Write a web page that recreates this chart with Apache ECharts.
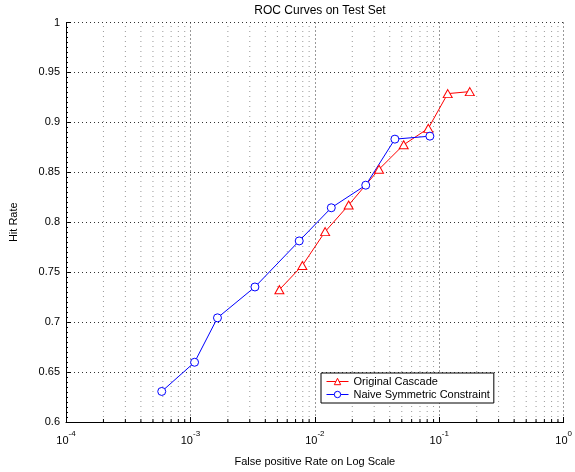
<!DOCTYPE html>
<html>
<head>
<meta charset="utf-8">
<script src="https://cdn.jsdelivr.net/npm/echarts@6/dist/echarts.min.js"></script>
<style>
  html, body { margin: 0; padding: 0; background: #fff; }
  #chart { width: 575px; height: 472px; }
</style>
</head>
<body>
<div id="chart"></div>
<script>
// ROC 曲线数据
const cascadeFpr = [0.00519, 0.00794, 0.0121, 0.0187, 0.0328, 0.0518, 0.0817, 0.117, 0.176];
const cascadeHit = [0.7325, 0.7567, 0.7906, 0.8172, 0.853, 0.8776, 0.894, 0.9288, 0.9308];
const naiveFpr = [0.000588, 0.00108, 0.00165, 0.0033, 0.00749, 0.01356, 0.02566, 0.044, 0.0841];
const naiveHit = [0.6306, 0.6598, 0.7043, 0.7352, 0.7813, 0.8145, 0.8371, 0.8832, 0.8862];
const seriesNames = ['Original Cascade', 'Naive Symmetric Constraint'];

// 对数轴的次刻度位置
const decades = [1e-4, 1e-3, 1e-2, 1e-1];
const mantissas = [2, 3, 4, 5, 6, 7, 8, 9];
const minorX = [];
decades.forEach(d => mantissas.forEach(m => minorX.push([+(m * d).toPrecision(3), 0.6])));

const FONT = '"Liberation Sans", Arial, sans-serif';
const chart = echarts.init(document.getElementById('chart'));

const option = {
    backgroundColor: '#fff',
    animation: false,
    textStyle: { fontFamily: FONT, color: '#000' },
    title: {
        text: 'ROC Curves on Test Set',
        left: 315,
        textAlign: 'center',
        top: 0,
        textStyle: { fontSize: 12, fontWeight: 'normal', color: '#000', fontFamily: FONT }
    },
    grid: { left: 62, right: 7, top: 22.5, bottom: 48, containLabel: false },
    legend: {
        data: seriesNames,
        orient: 'vertical',
        left: 321,
        top: 373,
        backgroundColor: '#fff',
        borderColor: '#000',
        borderWidth: 1,
        borderRadius: 0,
        padding: [2, 4, 2, 5],
        itemGap: 0,
        itemWidth: 22,
        itemHeight: 8,
        lineStyle: { width: 1 },
        itemStyle: { borderWidth: 1 },
        textStyle: { fontSize: 11, color: '#000', fontFamily: FONT, lineHeight: 13 }
    },
    xAxis: {
        type: 'log',
        logBase: 10,
        min: 1e-4,
        max: 1,
        name: 'False positive Rate on Log Scale',
        nameLocation: 'middle',
        nameGap: 34,
        nameTextStyle: { fontSize: 11, color: '#000' },
        axisLine: { show: true, lineStyle: { color: '#000', width: 1 } },
        axisTick: { show: true, inside: true, length: 5, lineStyle: { color: '#000' } },
        splitLine: { show: true, lineStyle: { color: '#333', type: [1, 3], width: 1 } },
        axisLabel: {
            margin: 8,
            color: '#000',
            formatter: function (v) {
                return '{b|10}{s|' + Math.round(Math.log10(v)) + '}';
            },
            rich: {
                b: { fontSize: 11, lineHeight: 16, verticalAlign: 'bottom', fontFamily: FONT },
                s: { fontSize: 8, lineHeight: 16, verticalAlign: 'top', fontFamily: FONT }
            }
        }
    },
    yAxis: {
        type: 'value',
        min: 0.6,
        max: 1,
        interval: 0.05,
        name: 'Hit Rate',
        nameLocation: 'middle',
        nameGap: 47,
        nameTextStyle: { fontSize: 11, color: '#000' },
        axisLine: { show: true, lineStyle: { color: '#000', width: 1 } },
        axisTick: { show: true, inside: true, length: 5, lineStyle: { color: '#000' } },
        minorTick: { show: true, splitNumber: 10, length: 2, lineStyle: { color: '#000' } },
        splitLine: { show: true, lineStyle: { color: '#333', type: [1, 3], width: 1 } },
        axisLabel: { fontSize: 11, color: '#000', margin: 6 }
    },
    series: [
        {
            // 次网格线与次刻度
            type: 'custom',
            silent: true,
            z: 1,
            data: minorX,
            renderItem: function (params, api) {
                const bottom = api.coord([api.value(0), 0.6]);
                const top = api.coord([api.value(0), 1]);
                return {
                    type: 'group',
                    children: [{
                        type: 'line',
                        shape: { x1: bottom[0], y1: bottom[1], x2: top[0], y2: top[1] },
                        style: { stroke: '#999', lineWidth: 1, lineDash: [1, 4] }
                    }, {
                        type: 'line',
                        shape: { x1: bottom[0], y1: bottom[1], x2: bottom[0], y2: bottom[1] - 3 },
                        style: { stroke: '#000', lineWidth: 1 }
                    }]
                };
            }
        },
        {
            name: seriesNames[0],
            type: 'line',
            z: 3,
            data: cascadeFpr.map((x, i) => [x, cascadeHit[i]]),
            symbol: 'triangle',
            symbolSize: [9, 8],
            lineStyle: { color: '#ff0000', width: 1 },
            itemStyle: { color: '#ffffff', borderColor: '#ff0000', borderWidth: 1 }
        },
        {
            name: seriesNames[1],
            type: 'line',
            z: 3,
            data: naiveFpr.map((x, i) => [x, naiveHit[i]]),
            symbol: 'circle',
            symbolSize: 8,
            lineStyle: { color: '#0000ff', width: 1 },
            itemStyle: { color: '#ffffff', borderColor: '#0000ff', borderWidth: 1 }
        }
    ]
};

chart.setOption(option);
</script>
</body>
</html>
